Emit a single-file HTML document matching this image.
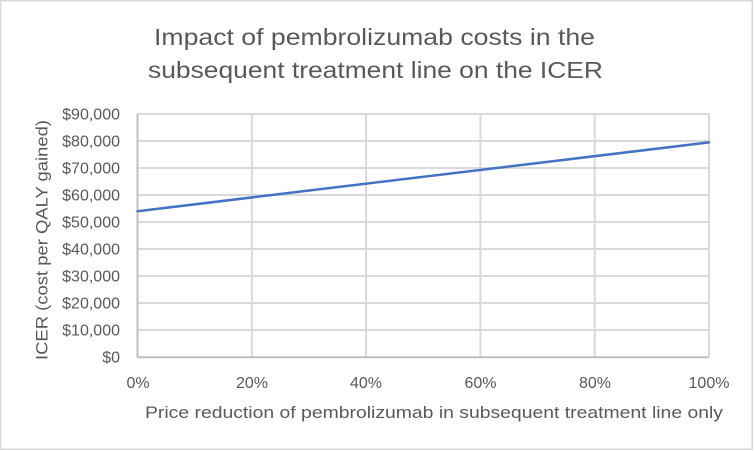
<!DOCTYPE html>
<html>
<head>
<meta charset="utf-8">
<style>
  html, body { margin: 0; padding: 0; background: #ffffff; }
  svg { display: block; }
  text { font-family: "Liberation Sans", Arial, sans-serif; fill: #595959; }
</style>
</head>
<body>
<svg width="754" height="451" viewBox="0 0 754 451" xmlns="http://www.w3.org/2000/svg">
  <rect x="0" y="0" width="754" height="451" fill="#ffffff"/>
  <rect x="0.75" y="0.75" width="751.5" height="448.5" fill="none" stroke="#d9d9d9" stroke-width="1.5"/>

  <!-- Title -->
  <text x="374.5" y="45" font-size="23" text-anchor="middle" textLength="441" lengthAdjust="spacingAndGlyphs">Impact of pembrolizumab costs in the</text>
  <text x="375.5" y="78" font-size="23" text-anchor="middle" textLength="455" lengthAdjust="spacingAndGlyphs">subsequent treatment line on the ICER</text>

  <!-- Horizontal gridlines -->
  <g stroke="#d9d9d9" stroke-width="2">
    <line x1="137.5" y1="114" x2="709" y2="114"/>
    <line x1="137.5" y1="141" x2="709" y2="141"/>
    <line x1="137.5" y1="168" x2="709" y2="168"/>
    <line x1="137.5" y1="195" x2="709" y2="195"/>
    <line x1="137.5" y1="222" x2="709" y2="222"/>
    <line x1="137.5" y1="249" x2="709" y2="249"/>
    <line x1="137.5" y1="276" x2="709" y2="276"/>
    <line x1="137.5" y1="303" x2="709" y2="303"/>
    <line x1="137.5" y1="330" x2="709" y2="330"/>
    <!-- vertical gridlines -->
    <line x1="251.8" y1="114" x2="251.8" y2="357"/>
    <line x1="366.1" y1="114" x2="366.1" y2="357"/>
    <line x1="480.4" y1="114" x2="480.4" y2="357"/>
    <line x1="594.7" y1="114" x2="594.7" y2="357"/>
    <line x1="709" y1="114" x2="709" y2="357"/>
  </g>
  <!-- Axes -->
  <g stroke="#bfbfbf" stroke-width="2">
    <line x1="137.5" y1="114" x2="137.5" y2="357.5"/>
    <line x1="137.5" y1="357.2" x2="709" y2="357.2"/>
  </g>

  <!-- Y tick labels -->
  <g font-size="16" text-anchor="end">
    <text x="120" y="119.5">$90,000</text>
    <text x="120" y="146.5">$80,000</text>
    <text x="120" y="173.5">$70,000</text>
    <text x="120" y="200.5">$60,000</text>
    <text x="120" y="227.5">$50,000</text>
    <text x="120" y="254.5">$40,000</text>
    <text x="120" y="281.5">$30,000</text>
    <text x="120" y="308.5">$20,000</text>
    <text x="120" y="335.5">$10,000</text>
    <text x="120" y="362.5">$0</text>
  </g>

  <!-- X tick labels -->
  <g font-size="16" text-anchor="middle">
    <text x="138" y="388">0%</text>
    <text x="252" y="388">20%</text>
    <text x="366" y="388">40%</text>
    <text x="480.5" y="388">60%</text>
    <text x="595" y="388">80%</text>
    <text x="709" y="388">100%</text>
  </g>

  <!-- Axis titles -->
  <text x="434" y="418" font-size="17" text-anchor="middle" textLength="578" lengthAdjust="spacingAndGlyphs">Price reduction of pembrolizumab in subsequent treatment line only</text>
  <text transform="translate(47.5,240) rotate(-90)" x="0" y="0" font-size="17" text-anchor="middle" textLength="240" lengthAdjust="spacingAndGlyphs">ICER  (cost per QALY gained)</text>

  <!-- Series -->
  <line x1="137.5" y1="211.2" x2="709" y2="142.4" stroke="#4472c4" stroke-width="2.5" stroke-linecap="round"/>
</svg>
</body>
</html>
